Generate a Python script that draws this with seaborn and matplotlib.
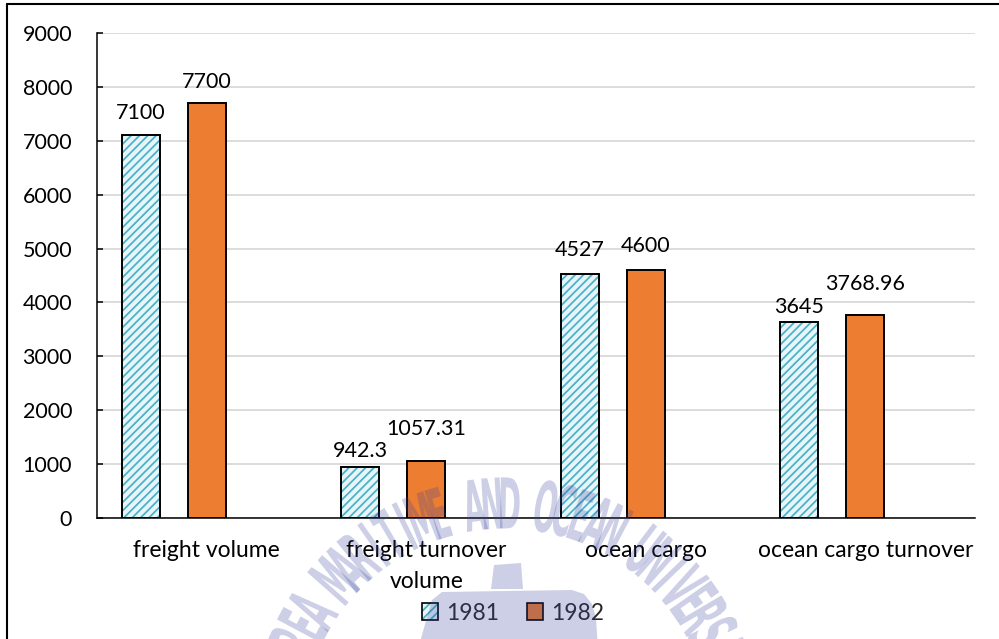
import matplotlib
matplotlib.use("Agg")
import numpy as np
import pandas as pd
import matplotlib.pyplot as plt
import seaborn as sns
from matplotlib.colors import to_rgba
from matplotlib.patches import Patch, PathPatch, Polygon
from matplotlib.lines import Line2D
from matplotlib.textpath import TextPath
from matplotlib.font_manager import FontProperties
from matplotlib.transforms import Affine2D

# ---- data -------------------------------------------------------------
categories = ["freight volume", "freight turnover\nvolume", "ocean cargo",
              "ocean cargo turnover"]
years = ["1981", "1982"]
values_1981 = [7100, 942.3, 4527, 3645]
values_1982 = [7700, 1057.31, 4600, 3768.96]
y_ticks = [0, 1000, 2000, 3000, 4000, 5000, 6000, 7000, 8000, 9000]

df = pd.DataFrame({
    "category": categories * 2,
    "year": [years[0]] * len(categories) + [years[1]] * len(categories),
    "value": values_1981 + values_1982,
})

# ---- style ------------------------------------------------------------
sns.set_theme(style="white")
plt.rcParams["font.family"] = ["Lato", "DejaVu Sans"]
plt.rcParams["hatch.linewidth"] = 1.25

FS = 15.5
FS_CAT = 16.5
HATCH_FACE = "#e6f5f8"
HATCH_LINE = "#4aafc8"
ORANGE = "#ed7d31"

fig = plt.figure(figsize=(9.99, 6.39), dpi=100)
fig.patch.set_facecolor("white")
W, H = 999, 639
ax = fig.add_axes([97 / W, 1 - 518 / H, (975 - 97) / W, (518 - 33) / H])

# three dodge slots per category; the third slot stays empty
sns.barplot(
    data=df, x="category", y="value", hue="year",
    order=categories, hue_order=years + [" "],
    palette={"1981": HATCH_FACE, "1982": ORANGE, " ": "white"},
    saturation=1, width=0.9, gap=0.42, errorbar=None, legend=False,
    edgecolor="black", linewidth=1.4, ax=ax, zorder=3,
)

for bar in ax.containers[0]:
    bar.set_hatch("////")
    bar._hatch_color = to_rgba(HATCH_LINE)

# value labels above each bar (gap in pixels between bar top and baseline)
label_gap = {0: [16, 10, 18, 9], 1: [15, 26, 18, 25]}
for k, vals in enumerate([values_1981, values_1982]):
    for bar, v, g in zip(ax.containers[k], vals, label_gap[k]):
        ax.annotate(f"{v:g}", xy=(bar.get_x() + bar.get_width() / 2, v),
                    xytext=(0, g), textcoords="offset pixels",
                    ha="center", va="baseline", fontsize=FS, color="black",
                    zorder=5)

ax.set_xlim(-0.5, 3.5)
ax.set_ylim(0, 9000)
ax.set_yticks(y_ticks)
ax.set_yticklabels([str(t) for t in y_ticks])
ax.set_xticks(range(len(categories)))
ax.set_xticklabels(categories, linespacing=1.55)
ax.set_xlabel("")
ax.set_ylabel("")
ax.tick_params(axis="y", direction="in", length=4.3, width=1.1, pad=18,
               labelsize=FS, colors="black", left=True)
ax.tick_params(axis="x", length=0, pad=16, labelsize=FS_CAT, colors="black")
ax.yaxis.grid(True, color="#d9d9d9", linewidth=1.3, zorder=0)
ax.xaxis.grid(False)
ax.set_axisbelow(True)
for side in ("top", "right"):
    ax.spines[side].set_visible(False)
for side in ("left", "bottom"):
    ax.spines[side].set_color("black")
    ax.spines[side].set_linewidth(1.1)
ax.patch.set_alpha(0)

# ---- legend -----------------------------------------------------------
h81 = Patch(facecolor=HATCH_FACE, edgecolor="black", hatch="////",
            linewidth=1.2, label="1981")
h81._hatch_color = to_rgba(HATCH_LINE)
h82 = Patch(facecolor=ORANGE, edgecolor="black", linewidth=1.2, label="1982")
fig.legend(handles=[h81, h82], loc="center", ncol=2, frameon=False,
           bbox_to_anchor=(513 / W, 1 - 613 / H), fontsize=FS_CAT,
           handlelength=0.7, handleheight=0.7, handletextpad=0.35,
           columnspacing=1.2)

# ---- overlay: frame and seal watermark ---------------------------------
ov = fig.add_axes([0, 0, 1, 1], zorder=10)
ov.set_xlim(0, W)
ov.set_ylim(0, H)
ov.axis("off")
ov.patch.set_alpha(0)

ov.add_line(Line2D([7, 7], [-5, H - 4], color="black", lw=1.5))
ov.add_line(Line2D([7, W + 5], [H - 4, H - 4], color="black", lw=1.5))

WM_COLOR = (60 / 255, 70 / 255, 160 / 255)
WM_ALPHA = 0.26

seal_text = "KOREA MARITIME AND OCEAN UNIVERSITY"
cx, cy, r = 506, H - 733, 230
start_deg, step_deg = 152 + 3 * 4.5, 4.5
fp = FontProperties(family="DejaVu Sans", weight="bold")
glyph_size = 70
for i, ch in enumerate(seal_text):
    if ch == " ":
        continue
    theta = np.deg2rad(start_deg - i * step_deg)
    tp = TextPath((0, 0), ch, size=glyph_size, prop=fp)
    ext = tp.get_extents()
    tr = (Affine2D()
          .translate(-(ext.x0 + ext.x1) / 2, -(ext.y0 + ext.y1) / 2)
          .scale(0.4, 1.0)
          .rotate(theta - np.pi / 2)
          .translate(cx + r * np.cos(theta), cy + r * np.sin(theta)))
    ov.add_patch(PathPatch(tr.transform_path(tp), facecolor=WM_COLOR,
                           edgecolor="none", alpha=WM_ALPHA))

# emblem below the lettering
emblem_band = [(418, -10), (432, H - 600), (442, H - 592), (572, H - 590),
               (584, H - 594), (592, H - 604), (596, H - 618), (598, -10)]
ov.add_patch(Polygon(emblem_band, closed=True, facecolor=WM_COLOR,
                     edgecolor="none", alpha=WM_ALPHA))
ov.add_patch(Polygon([(491, H - 589), (494, H - 565), (521, H - 563),
                      (523, H - 589)], closed=True, facecolor=WM_COLOR,
                     edgecolor="none", alpha=WM_ALPHA))

fig.savefig("out.png", dpi=100, facecolor="white")
